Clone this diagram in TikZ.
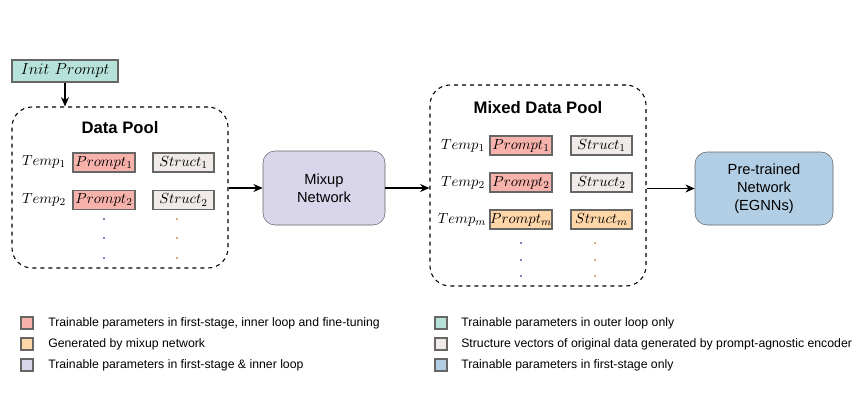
\documentclass[tikz,border=0pt]{standalone}
\usepackage{fontspec}
\setsansfont{Liberation Sans}
\usetikzlibrary{arrows.meta}

\definecolor{promptred}{RGB}{248,178,172}
\definecolor{mixorange}{RGB}{255,214,168}
\definecolor{structgray}{RGB}{240,235,232}
\definecolor{mixlav}{RGB}{217,214,235}
\definecolor{initteal}{RGB}{182,226,218}
\definecolor{pretblue}{RGB}{178,206,228}

\tikzset{
    cell/.style={draw=black!60, thick, minimum width=46.5pt, minimum height=14.25pt,
        inner sep=0pt, font=\fontsize{11}{13}\selectfont},
    pool/.style={draw, dashed, thick, rounded corners=15pt},
    net/.style={draw=black!60, rounded corners=9pt, align=center,
        font=\sffamily\fontsize{11}{13.5}\selectfont},
    arr/.style={-{Stealth[length=7pt,width=6pt]}, thick},
    keybox/.style={draw=black!60, thick, minimum size=9pt, inner sep=0pt},
    keytext/.style={right, inner sep=0pt, font=\sffamily\fontsize{9.2}{11}\selectfont},
}

\begin{document}
\begin{tikzpicture}[x=0.75pt,y=-0.75pt]
    \useasboundingbox (0,0) rectangle (861,408);

    % init prompt
    \node[draw=black!60, thick, fill=initteal, minimum width=79.5pt, minimum height=16.5pt,
        inner sep=0pt, font=\fontsize{12.5}{14}\selectfont] (init) at (65,71) {$Init\ Prompt$};

    % data pool
    \node[pool, minimum width=162pt, minimum height=120.75pt] (pool) at (120,187.5) {};
    \node[font=\sffamily\bfseries\fontsize{12.5}{15}\selectfont] (pooltitle) at (120,128) {Data Pool};

    \node[font=\fontsize{11}{13}\selectfont] (t1) at (44,162) {$Temp_1$};
    \node[font=\fontsize{11}{13}\selectfont] (t2) at (44,200) {$Temp_2$};
    \node[cell, fill=promptred] (p1) at (104,162.5) {$Prompt_1$};
    \node[cell, fill=promptred] (p2) at (104,200) {$Prompt_2$};
    \node[cell, fill=structgray, minimum width=45.75pt] (s1) at (183.5,162.5) {$Struct_1$};
    \node[cell, fill=structgray, minimum width=45.75pt] (s2) at (183.5,200) {$Struct_2$};
    \foreach \y in {219,238,258} {
        \fill[blue!50!black] (104,\y) circle (0.7pt);
        \fill[orange!70!black] (177,\y) circle (0.7pt);
    }

    % mixup network
    \node[net, fill=mixlav, minimum width=91.5pt, minimum height=55.5pt] (mixup) at (324,188)
        {Mixup\\Network};

    % mixed data pool
    \node[pool, minimum width=162pt, minimum height=150.75pt] (mixed) at (538,185.5) {};
    \node[font=\sffamily\bfseries\fontsize{12.5}{15}\selectfont] (mixedtitle) at (538,108) {Mixed Data Pool};

    \node[font=\fontsize{11}{13}\selectfont] (mt1) at (463,146) {$Temp_1$};
    \node[font=\fontsize{11}{13}\selectfont] (mt2) at (463,183) {$Temp_2$};
    \node[font=\fontsize{11}{13}\selectfont] (mtm) at (462,220) {$Temp_m$};
    \node[cell, fill=promptred] (mp1) at (521,145.5) {$Prompt_1$};
    \node[cell, fill=promptred] (mp2) at (521,182.5) {$Prompt_2$};
    \node[cell, fill=mixorange] (mpm) at (521,219.5) {$Prompt_m$};
    \node[cell, fill=structgray, minimum width=45.75pt] (ms1) at (601.5,145.5) {$Struct_1$};
    \node[cell, fill=structgray, minimum width=45.75pt] (ms2) at (601.5,182.5) {$Struct_2$};
    \node[cell, fill=mixorange, minimum width=45.75pt] (msm) at (601.5,219.5) {$Struct_m$};
    \foreach \y in {243,260,276} {
        \fill[blue!50!black] (521,\y) circle (0.7pt);
        \fill[orange!70!black] (595,\y) circle (0.7pt);
    }

    % pre-trained network
    \node[net, fill=pretblue, minimum width=103.5pt, minimum height=54.75pt] (pret) at (764,188.5)
        {Pre-trained\\Network\\(EGNNs)};

    % connectors
    \draw[arr] (init.south) -- (init.south |- pool.north);
    \draw[arr] (pool.east |- mixup.west) -- (mixup.west);
    \draw[arr] (mixup.east) -- (mixed.west |- mixup.east);
    \draw[arr] (mixed.east |- pret.west) -- (pret.west);

    % legend
    \foreach \c/\t [count=\i] in {promptred/{Trainable parameters in first-stage, inner loop and fine-tuning},
            mixorange/{Generated by mixup network},
            mixlav/{Trainable parameters in first-stage \& inner loop}} {
        \node[keybox, fill=\c] (kl\i) at (27,302+21*\i) {};
        \node[keytext] (klt\i) at (48,302+21*\i) {\t};
    }
    \foreach \c/\t [count=\i] in {initteal/{Trainable parameters in outer loop only},
            structgray/{Structure vectors of original data generated by prompt-agnostic encoder},
            pretblue/{Trainable parameters in first-stage only}} {
        \node[keybox, fill=\c] (kr\i) at (441,302+21*\i) {};
        \node[keytext] (krt\i) at (461,302+21*\i) {\t};
    }
\end{tikzpicture}
\end{document}
